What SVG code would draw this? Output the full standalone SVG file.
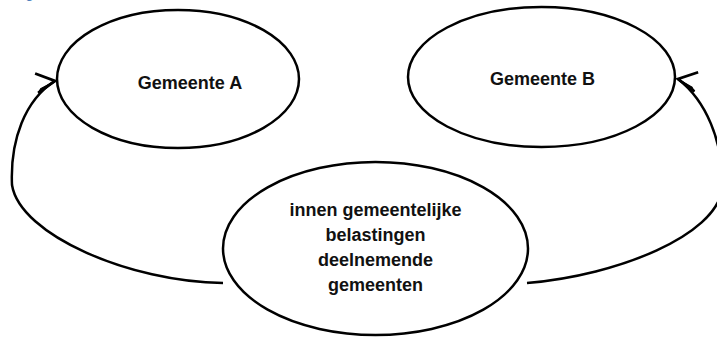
<svg xmlns="http://www.w3.org/2000/svg" width="717" height="338" viewBox="0 0 717 338">
  <style>
    .node { fill: #ffffff; stroke: #000000; stroke-width: 2.5; }
    .label { font-family: "Liberation Sans", Arial, sans-serif; font-weight: bold; font-size: 18px; fill: #111111; text-anchor: middle; }
    .conn { fill: none; stroke: #000000; stroke-width: 2.5; }
    .caption { font-family: "Liberation Sans", Arial, sans-serif; font-weight: bold; font-size: 13px; fill: #4f81bd; }
  </style>
  <defs>
    <marker id="arrowL" markerUnits="userSpaceOnUse" markerWidth="30" markerHeight="30" viewBox="-22 -15 30 30" refX="0" refY="0" orient="-6" overflow="visible">
      <path d="M -19,-9.5 L 0,0 L -18,10" fill="none" stroke="#000" stroke-width="2.8" stroke-linejoin="miter"/>
      <path d="M 0,0 L -18,10 L -15,6 Z" fill="#000" stroke="#000" stroke-width="1"/>
    </marker>
    <marker id="arrowR" markerUnits="userSpaceOnUse" markerWidth="30" markerHeight="30" viewBox="-22 -15 30 30" refX="0" refY="0" orient="188" overflow="visible">
      <path d="M -19,9.5 L 0,0 L -18,-10" fill="none" stroke="#000" stroke-width="2.8" stroke-linejoin="miter"/>
      <path d="M 0,0 L -18,-10 L -15,-6 Z" fill="#000" stroke="#000" stroke-width="1"/>
    </marker>
  </defs>
  <rect x="0" y="0" width="717" height="338" fill="#ffffff"/>
  <text class="caption" x="14" y="-2">Figuur</text>

  <g id="connectors">
    <path class="conn" d="M 223,283 C 130,282 20,235 12,185 C 10,140 25,100 55,81" marker-end="url(#arrowL)"/>
    <path class="conn" d="M 527,283 C 620,275 715,235 722,190 C 724,140 705,100 678,79" marker-end="url(#arrowR)"/>
  </g>

  <g id="gemeente-a">
    <ellipse class="node" cx="178" cy="79" rx="121" ry="69"/>
    <text class="label" x="190" y="89">Gemeente A</text>
  </g>

  <g id="gemeente-b">
    <ellipse class="node" cx="541.5" cy="77" rx="133.5" ry="70"/>
    <text class="label" x="542.5" y="85">Gemeente B</text>
  </g>

  <g id="innen">
    <ellipse class="node" cx="375.5" cy="248.5" rx="152.5" ry="86.5"/>
    <text class="label" x="375.5" y="216">innen gemeentelijke</text>
    <text class="label" x="375.5" y="241">belastingen</text>
    <text class="label" x="375.5" y="266">deelnemende</text>
    <text class="label" x="375.5" y="291">gemeenten</text>
  </g>
</svg>
